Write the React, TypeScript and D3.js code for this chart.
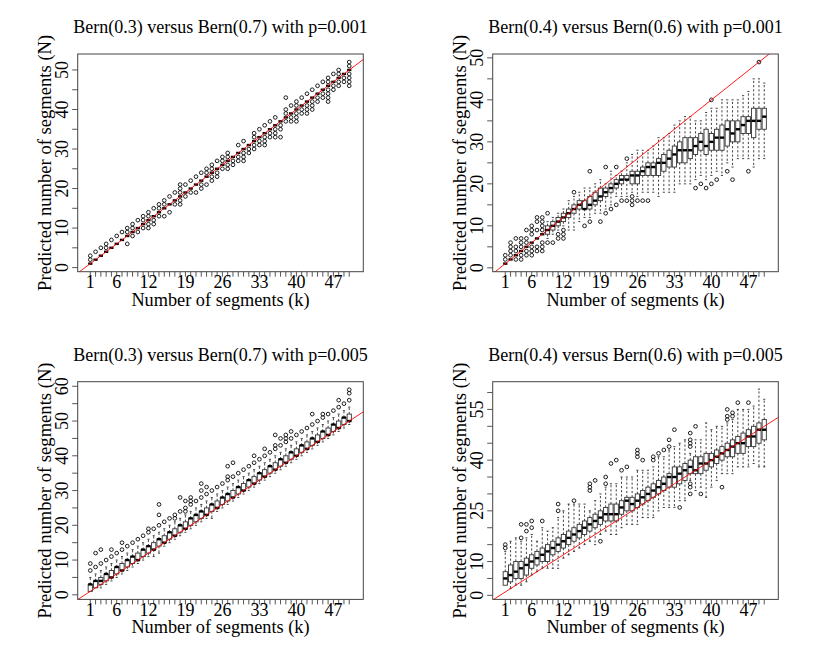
import React from "react";
import * as d3 from "d3";

// ---------- categories & tick labels ----------
const segments = [1,2,3,4,5,6,7,8,9,10,11,12,13,14,15,16,17,18,19,20,21,22,23,24,25,26,27,28,29,30,31,32,33,34,35,36,37,38,39,40,41,42,43,44,45,46,47,48,49,50];
const xTickLabels = [1, 6, 12, 19, 26, 33, 40, 47];

// ---------- panel A: Bern(0.3) vs Bern(0.7), p=0.001 ----------
const aMedian = [1,2,3,4,5,6,7,8,9,10,11,12,13,14,15,16,17,18,19,20,21,22,23,24,25,26,27,28,29,30,31,32,33,34,35,36,37,38,39,40,41,42,43,44,45,46,47,48,49,50];
const aOutliers = [
  [3,2],[4],[5],[6,5],[7],[8],[9],[10,9,6],[11,10,8],[12,9],
  [13,12,10],[14,13,11,10],[15,12,11],[16,15,13],[17,16,13],[18,14],[19,16],[21,20,19,17,16],[21,18],[22,19],
  [23,19],[24,21,20],[25,24,21],[26,25,23,22],[27,24,23],[28,27,25],[29,28,26,25],[27,26],[31,28,27],[32,29,28,27],
  [30,29],[34,33,31,30],[35,32,31],[36,33,32,31],[37,34,33],[38,35,34,33],[36,35,33],[43,40,39,37],[41,38,37],[42,41,39,38,37],
  [43,40,39],[44,41,40,39],[45,42,41,40],[46,43,42],[47,44,43],[48,47,45,44,43,42],[49,46,45],[50,49,47,46],[48,47],[52,51,49,48,47,46]
];
const aYTicks = [0,5,10,15,20,25,30,35,40,45,50];
const aYLabels = [0,10,20,30,40,50];

// ---------- panel B: Bern(0.4) vs Bern(0.6), p=0.001 ----------
const bMedian = [1,2,3,4,5,6,7,8,9,10,11,12,13,14,15,14,15,16,17,18,19,20,21,21,22,22,23,24,24,25,25,26,27,28,28,28,29,30,29,30,31,31,33,32,33,34,35,35,35,36];
const bQ1 =     [1,2,3,4,5,6,7,8,8,9,10,11,12,13,14,14,14,15,16,17,18,19,20,21,20,20,22,22,22,22,23,24,24,25,25,26,27,28,27,28,28,28,29,30,30,32,32,31,33,33];
const bQ3 =     [1,2,3,4,5,6,7,8,10,11,12,13,14,15,16,16,17,18,19,19,20,21,22,22,23,23,24,25,25,26,27,28,29,30,31,31,31,32,33,32,33,34,35,35,35,36,36,38,38,38];
const bLow =    [1,2,3,4,5,6,7,8,7,8,9,10,9,9,11,12,12,13,13,14,15,17,17,17,18,17,18,18,18,17,18,18,18,20,20,20,21,22,21,22,23,22,25,24,26,26,26,24,26,26];
const bHigh =   [1,2,3,4,5,6,7,8,11,12,13,14,16,17,18,19,19,20,21,20,23,22,23,25,27,28,28,28,29,31,31,32,34,35,36,36,35,35,37,38,38,40,40,40,40,41,42,45,45,44];
const bOutliers = [
  [3,2],[6,5,4,3],[7,5,4,2],[7,6,5,3,2],[9,7,6,4,3],[10,9,8,5,4,3],[12,11,9,5,4],[12,11,10,9,6,5,4],[13,6],[6],
  [8,7],[9,8,7],[],[18],[],[10],[23,11],[],[11],[24,13],
  [14],[24,15],[16],[26,16],[17,16,15],[16],[16],[16],[],[],
  [],[],[],[],[],[],[19],[20],[19],[40,20],
  [21],[],[23],[21],[],[],[23],[],[49],[]
];
const bYTicks = [0,5,10,15,20,25,30,35,40,45,50];
const bYLabels = [0,10,20,30,40,50];

// ---------- panel C: Bern(0.3) vs Bern(0.7), p=0.005 ----------
const cMedian = [3,4,4,6,5,8,7,10,11,10,13,14,13,16,15,18,17,20,19,22,23,24,23,26,25,28,29,28,31,30,33,32,35,34,37,36,39,38,41,40,43,42,45,44,47,46,49,48,51,50];
const cQ1 =     [1,2,3,4,5,6,7,8,9,10,11,12,13,14,15,16,17,18,19,20,21,22,23,24,25,26,27,28,29,30,31,32,33,34,35,36,37,38,39,40,41,42,43,44,45,46,47,48,49,50];
const cQ3 =     [3,4,5,6,7,8,9,10,11,12,13,14,15,16,17,18,19,20,21,22,23,24,25,26,27,28,29,30,31,32,33,34,35,36,37,38,39,40,41,42,43,44,45,46,47,48,49,50,51,52];
const cLow =    [1,2,2,3,4,5,6,7,8,9,10,11,11,12,14,15,16,17,18,19,20,21,22,22,24,25,26,27,28,29,30,31,32,33,34,35,36,37,38,39,40,41,42,43,44,45,46,47,48,49];
const cHigh =   [5,6,7,8,9,10,11,12,13,14,15,16,17,18,19,20,21,22,23,24,25,26,27,28,29,30,31,32,33,34,35,36,37,38,39,40,41,42,43,44,45,46,47,48,49,50,51,52,53,54];
const cOutliers = [
  [9,7],[12,8],[13,9],[10],[13,11],[12],[15,13],[14],[15],[16],
  [17],[19,18],[19],[26,23,20],[21],[22],[23,22],[28,24],[27,25,24],[28,27,26],
  [27],[32,30,28],[31,29],[30],[31],[32],[37,34,33],[38,34],[35],[36],
  [37],[40,38],[39],[42,40],[41],[46,43,42],[45,43],[46,45,44],[47,45],[46],
  [47],[48],[52,49],[50],[52,51],[52],[53],[56,54],[55],[59,58,56]
];
const cYTicks = [0,5,10,15,20,25,30,35,40,45,50,55,60];
const cYLabels = [0,10,20,30,40,50,60];

// ---------- panel D: Bern(0.4) vs Bern(0.6), p=0.005 ----------
const dMedian = [5,6,7,8,9,10,11,12,13,14,15,16,17,18,19,20,21,22,23,24,24,24,26,28,27,28,29,30,31,32,33,35,35,36,37,38,37,39,39,40,41,42,43,44,45,45,47,47,49,49];
const dQ1 =     [3,4,5,5,6,8,9,10,10,12,13,14,15,16,17,18,19,20,21,22,22,22,24,25,25,26,27,28,29,30,31,32,32,33,34,36,36,36,37,38,39,40,41,41,42,42,44,44,45,46];
const dQ3 =     [7,9,10,10,11,12,13,14,15,16,17,18,19,20,21,22,23,24,25,26,27,27,28,29,29,30,31,32,33,34,35,36,38,38,39,40,41,41,42,42,43,44,45,46,47,48,49,50,51,52];
const dLow =    [3,2,3,3,4,6,7,8,8,8,8,11,12,13,14,15,16,15,18,19,18,18,20,21,21,21,23,23,23,25,26,26,26,28,28,34,31,32,29,32,34,36,36,36,38,38,38,39,38,38];
const dHigh =   [13,16,17,16,17,18,16,20,19,20,23,25,27,27,27,27,25,28,30,32,33,33,35,35,35,37,37,37,38,41,41,43,44,45,46,42,46,46,51,49,50,50,51,52,55,55,55,56,61,58];
const dOutliers = [
  [15,14],[],[],[21,17],[21,19],[22,20],[],[22],[],[],
  [27,25],[],[],[28],[],[],[33,32,31],[34],[16],[35,33],
  [39],[40],[37],[38],[],[43,42,41],[40],[],[41,40],[42],
  [43],[46,44],[49],[26],[],[48,46,45,44,33,32,30],[50],[30],[],[],
  [],[32],[55,53,52],[54,53],[57],[],[57],[],[],[]
];
const dYTicks = [0,5,10,15,20,25,30,35,40,45,50,55,60];
const dYLabels = [0,10,25,40,55];

const FONT = "Liberation Serif";
const PW = 285.6;
const PH = 217.7;

type PanelProps = {
  left: number; top: number; title: string; yDomain: [number, number];
  yTicks: number[]; yLabels: number[];
  median: number[]; q1?: number[]; q3?: number[]; low?: number[]; high?: number[];
  outliers: number[][]; id: string;
};

const txt = { fontFamily: FONT, fill: "#000" } as React.CSSProperties;

function Panel(p: PanelProps) {
  const x = d3.scaleLinear().domain([-1.38, 52.66]).range([p.left, p.left + PW]);
  const y = d3.scaleLinear().domain(p.yDomain).range([p.top + PH, p.top]);
  const bottom = p.top + PH;
  const hw = x(0.4) - x(0);
  const sw = x(0.2) - x(0);
  const line = d3.line<number>().x((d) => x(d)).y((d) => y(d));
  return (
    <g>
      <defs>
        <clipPath id={p.id}>
          <rect x={p.left} y={p.top} width={PW} height={PH} />
        </clipPath>
      </defs>
      <text x={p.left + PW / 2} y={p.top - 21} textAnchor="middle" style={{ ...txt, fontSize: 18 }}>{p.title}</text>
      <g>
        {segments.map((k, i) => {
          const med = p.median[i];
          const q1 = p.q1 ? p.q1[i] : med;
          const q3 = p.q3 ? p.q3[i] : med;
          const lo = p.low ? p.low[i] : med;
          const hi = p.high ? p.high[i] : med;
          const cx = x(k);
          return (
            <g key={k}>
              {hi > q3 && (
                <g stroke="#222" strokeWidth={0.85}>
                  <line x1={cx} x2={cx} y1={y(q3)} y2={y(hi)} strokeDasharray="2.2,2" />
                  <line x1={cx - sw} x2={cx + sw} y1={y(hi)} y2={y(hi)} />
                </g>
              )}
              {lo < q1 && (
                <g stroke="#222" strokeWidth={0.85}>
                  <line x1={cx} x2={cx} y1={y(q1)} y2={y(lo)} strokeDasharray="2.2,2" />
                  <line x1={cx - sw} x2={cx + sw} y1={y(lo)} y2={y(lo)} />
                </g>
              )}
              {q3 > q1 && (
                <rect x={cx - hw} y={y(q3)} width={2 * hw} height={y(q1) - y(q3)} fill="white" stroke="#333" strokeWidth={0.9} />
              )}
              <line x1={cx - hw} x2={cx + hw} y1={y(med)} y2={y(med)} stroke="#000" strokeWidth={2.4} />
              {p.outliers[i].map((v, j) => (
                <circle key={j} cx={cx} cy={y(v)} r={1.85} fill="none" stroke="#111" strokeWidth={0.95} />
              ))}
            </g>
          );
        })}
      </g>
      <path d={line([-5, 70]) || ""} stroke="#ff0000" strokeWidth={0.9} fill="none" clipPath={`url(#${p.id})`} />
      <rect x={p.left} y={p.top} width={PW} height={PH} fill="none" stroke="#444" strokeWidth={1} />
      <g stroke="#444" strokeWidth={0.9}>
        {segments.map((k) => (
          <line key={k} x1={x(k)} x2={x(k)} y1={bottom} y2={bottom + 5} />
        ))}
      </g>
      {xTickLabels.map((k) => (
        <text key={k} x={x(k)} y={bottom + 16.4} textAnchor="middle" style={{ ...txt, fontSize: 18 }}>{k}</text>
      ))}
      <text x={p.left + PW / 2} y={bottom + 34} textAnchor="middle" style={{ ...txt, fontSize: 18.3 }}>Number of segments (k)</text>
      <g stroke="#444" strokeWidth={0.9}>
        {p.yTicks.map((v) => (
          <line key={v} x1={p.left} x2={p.left - 5.5} y1={y(v)} y2={y(v)} />
        ))}
      </g>
      {p.yLabels.map((v) => (
        <text key={v} transform={`translate(${p.left - 9.4},${y(v)}) rotate(-90)`} textAnchor="middle" style={{ ...txt, fontSize: 18 }}>{v}</text>
      ))}
      <text transform={`translate(${p.left - 27},${p.top + PH / 2}) rotate(-90)`} textAnchor="middle" style={{ ...txt, fontSize: 18.6 }}>Predicted number of segments (N)</text>
    </g>
  );
}

export default function App() {
  return (
    <svg width={830} height={654} style={{ position: "absolute", left: 0, top: 0, background: "white" }}>
      <rect x={0} y={0} width={830} height={654} fill="white" />
      <Panel id="ca" left={77.7} top={54} title="Bern(0.3) versus Bern(0.7) with p=0.001" yDomain={[-1.04, 54.04]}
        yTicks={aYTicks} yLabels={aYLabels} median={aMedian} outliers={aOutliers} />
      <Panel id="cb" left={492.7} top={54} title="Bern(0.4) versus Bern(0.6) with p=0.001" yDomain={[-0.92, 50.92]}
        yTicks={bYTicks} yLabels={bYLabels} median={bMedian} q1={bQ1} q3={bQ3} low={bLow} high={bHigh} outliers={bOutliers} />
      <Panel id="cc" left={77.7} top={381.7} title="Bern(0.3) versus Bern(0.7) with p=0.005" yDomain={[-1.32, 61.32]}
        yTicks={cYTicks} yLabels={cYLabels} median={cMedian} q1={cQ1} q3={cQ3} low={cLow} high={cHigh} outliers={cOutliers} />
      <Panel id="cd" left={492.7} top={381.7} title="Bern(0.4) versus Bern(0.6) with p=0.005" yDomain={[-1.2, 63.2]}
        yTicks={dYTicks} yLabels={dYLabels} median={dMedian} q1={dQ1} q3={dQ3} low={dLow} high={dHigh} outliers={dOutliers} />
    </svg>
  );
}
